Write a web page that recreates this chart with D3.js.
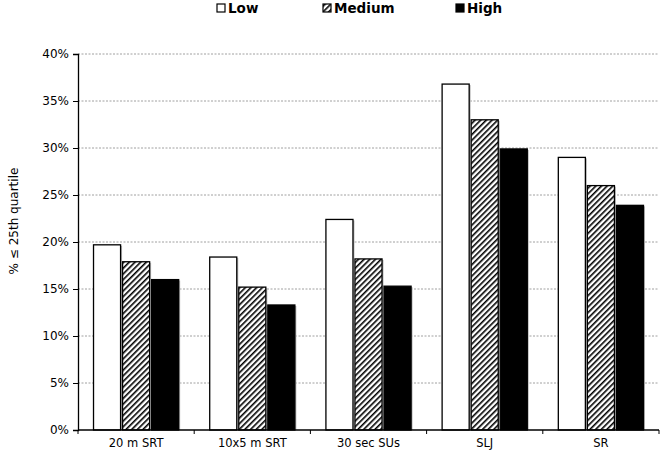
<!DOCTYPE html>
<html><head><meta charset="utf-8">
<script src="https://cdn.jsdelivr.net/npm/d3@7"></script>
<style>body{margin:0;background:#fff}svg{display:block}text{font-family:"DejaVu Sans",Verdana,sans-serif}</style>
</head><body><svg id="c" width="662" height="451"></svg>
<script>
const categories = ["20 m SRT", "10x5 m SRT", "30 sec SUs", "SLJ", "SR"];
const seriesNames = ["Low", "Medium", "High"];
const low = [19.7, 18.4, 22.4, 36.8, 29.0];
const medium = [17.9, 15.2, 18.2, 33.0, 26.0];
const high = [16.0, 13.3, 15.3, 29.9, 23.9];
const yTicks = [0, 5, 10, 15, 20, 25, 30, 35, 40];

const values = [low, medium, high];
const svg = d3.select("#c");
const m = {l: 78, r: 659, t: 54, b: 430};

const defs = svg.append("defs");
const pat = defs.append("pattern").attr("id", "hatch").attr("patternUnits", "userSpaceOnUse")
  .attr("width", 4).attr("height", 4).attr("patternTransform", "rotate(45)");
pat.append("rect").attr("width", 4).attr("height", 4).attr("fill", "#fff");
pat.append("rect").attr("x", 0).attr("width", 1.6).attr("height", 4).attr("fill", "#000");

const fills = ["#fff", "url(#hatch)", "#000"];

const x = d3.scaleBand().domain(categories).range([m.l, m.r]).paddingInner(0).paddingOuter(0);
const x1 = d3.scaleBand().domain(seriesNames).range([0, x.bandwidth()]).paddingInner(0.069).paddingOuter(0.534);
const y = d3.scaleLinear().domain([0, 40]).range([m.b, m.t]);

// gridlines
svg.append("g").selectAll("line").data(yTicks.filter(d => d > 0)).join("line")
  .attr("x1", m.l).attr("x2", m.r).attr("y1", d => y(d)).attr("y2", d => y(d))
  .attr("stroke", "#888").attr("stroke-width", 0.8).attr("stroke-dasharray", "2,1.5");

// bars (with faint shadow)
const g = svg.append("g");
seriesNames.forEach((s, si) => {
  g.selectAll(null).data(categories).join("rect")
    .attr("x", d => x(d) + x1(s) + 1.5)
    .attr("y", (d, i) => y(values[si][i]) + 1)
    .attr("width", x1.bandwidth())
    .attr("height", (d, i) => y(0) - y(values[si][i]) - 1)
    .attr("fill", "#bbb");
  g.selectAll(null).data(categories).join("rect")
    .attr("x", d => x(d) + x1(s))
    .attr("y", (d, i) => y(values[si][i]))
    .attr("width", x1.bandwidth())
    .attr("height", (d, i) => y(0) - y(values[si][i]))
    .attr("fill", fills[si]).attr("stroke", "#000").attr("stroke-width", 1.3);
});

// y axis
const ya = svg.append("g").attr("transform", `translate(${m.l},0)`)
  .call(d3.axisLeft(y).tickValues(yTicks).tickFormat(d => d + "%").tickSizeOuter(0).tickSize(5));
ya.select(".domain").attr("stroke", "#000").attr("stroke-width", 1.3);
ya.selectAll("text").attr("font-size", 12).attr("fill", "#000").attr("dx", "-1");

// x axis
const xa = svg.append("g").attr("transform", `translate(0,${m.b})`);
xa.append("line").attr("x1", m.l).attr("x2", m.r).attr("stroke", "#000").attr("stroke-width", 1.3);
const bounds = categories.map(c => x(c)).concat([m.r]);
xa.selectAll(".tk").data(bounds).join("line").attr("x1", d => d).attr("x2", d => d)
  .attr("y1", 0).attr("y2", 4).attr("stroke", "#000");
xa.selectAll(".lb").data(categories).join("text")
  .attr("x", d => x(d) + x.bandwidth() / 2).attr("y", 17)
  .attr("text-anchor", "middle").attr("font-size", 11.5).text(d => d);

// y label
svg.append("text").attr("transform", `translate(18,221) rotate(-90)`)
  .attr("text-anchor", "middle").attr("font-size", 12).text("% ≤ 25th quartile");

// legend
const legX = [217, 323, 456];
const lg = svg.append("g");
seriesNames.forEach((s, i) => {
  lg.append("rect").attr("x", legX[i]).attr("y", 4).attr("width", 8).attr("height", 8)
    .attr("fill", i === 1 ? "url(#hatch)" : fills[i]).attr("stroke", "#000").attr("stroke-width", 1.2);
  lg.append("text").attr("x", legX[i] + 11).attr("y", 13).attr("font-size", 13.5)
    .attr("font-weight", "bold").text(s);
});
</script></body></html>
